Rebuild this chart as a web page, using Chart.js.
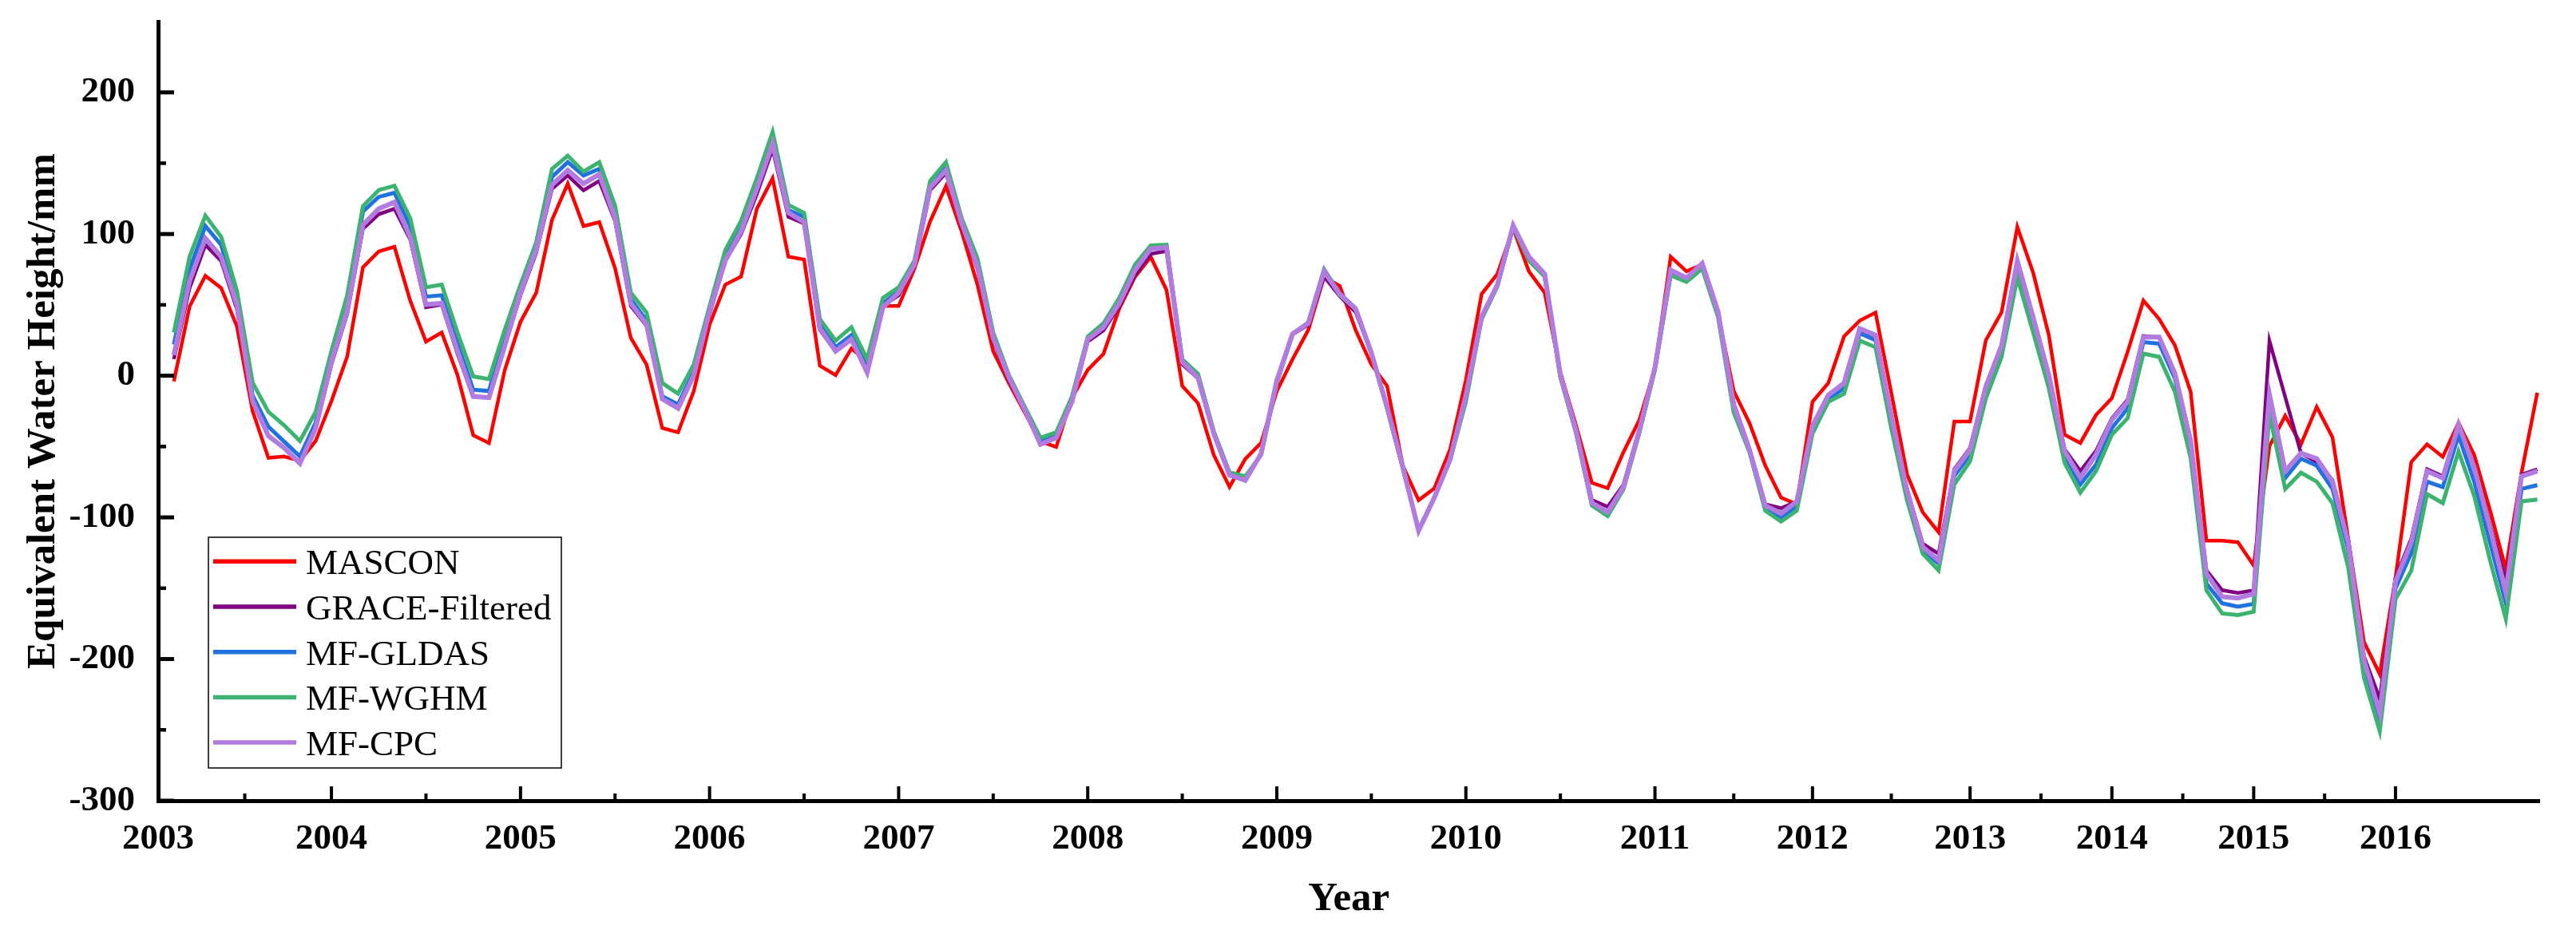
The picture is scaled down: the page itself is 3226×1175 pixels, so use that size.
<!DOCTYPE html>
<html>
<head>
<meta charset="utf-8">
<script src="https://cdn.jsdelivr.net/npm/chart.js@4.4.1/dist/chart.umd.min.js"></script>
<style>
html,body{margin:0;padding:0;background:#ffffff;overflow:hidden;}
#wrap{width:3226px;height:1175px;position:relative;}
canvas{display:block;}
</style>
</head>
<body>
<div id="wrap"><canvas id="c" width="3226" height="1175"></canvas></div>
<script>
// ---------------- DATA ----------------
// x positions are sequential monthly-solution indices (index 0 = Jan 2003 slot, data from index 1)
const yearLabels = ['2003','2004','2005','2006','2007','2008','2009','2010','2011','2012','2013','2014','2015','2016'];
const yearTickIndex = [0, 11, 23, 35, 47, 59, 71, 83, 95, 105, 115, 124, 133, 142];
const yTickValues = [-300, -200, -100, 0, 100, 200];
const yMinorValues = [-250, -150, -50, 50, 150];
const seriesNames = ['MASCON', 'GRACE-Filtered', 'MF-GLDAS', 'MF-WGHM', 'MF-CPC'];

const mascon = [
 -4, 49, 70.5, 62, 35, -25, -58, -57, -60, -46,
 -18, 13.5, 76.5, 87.7, 91, 53, 24, 30.5, 0.5, -42,
 -47.5, 4, 38, 58.6, 110, 135.6, 105.6, 108.4, 76, 26.7,
 7.9, -37, -40, -10.8, 36, 64.3, 70, 117.8, 139.4, 84,
 82, 7, 0.4, 19.2, 10, 49.2, 49.2, 75.5, 109, 133.7,
 101.8, 64.3, 17.3, -5.2, -25.9, -46.5, -50.3, -15.6, 4.1, 15.4,
 47.3, 69.8, 83.9, 60.5, -7.2, -19.4, -56, -78.5, -58.8, -47.5,
 -10.9, 11.6, 32.3, 69.8, 63.3, 32.3, 7.9, -7.2, -63.5, -87.9,
 -79.5, -52, -3, 57.7, 71.8, 104, 73.7, 58.6, 2.3, -35.3,
 -75.6, -79.4, -54, -31.5, 5, 84, 73.7, 78.4, 43.6, -10.8,
 -33.4, -63.4, -86, -90.7, -18.4, -5.2, 27.7, 38.9, 44.6, -12,
 -69.6, -96.5, -110.5, -32.3, -32.3, 25, 44.8, 105, 72.8, 28.5,
 -41.6, -47.5, -27.6, -15.9, 16.8, 53, 40.1, 21.5, -11.3, -116.4,
 -116.4, -117.5, -134, -49.7, -28.3, -48.4, -22, -43.4, -115.1, -188,
 -210.6, -142.7, -61, -48.4, -57.2, -33.3, -56, -95, -136.4, -68.5,
 -12
];

const graceFiltered = [
 11.7, 62, 92.4, 81, 47, -18, -42, -51, -61.5, -37,
 7.9, 43.6, 103.7, 114, 117.8, 96.2, 48.3, 50.2, 15.4, -14.6,
 -15.5, 21, 56.8, 86.8, 131.9, 141.3, 130.9, 137.5, 109.3, 49.2,
 35.2, -16.5, -23, 0.4, 43.6, 81.2, 100, 128.1, 160, 112.2,
 107.5, 32.3, 17.3, 25.8, 2.3, 49.2, 56.8, 77.4, 131, 143.1,
 105.6, 75.5, 24.8, -3.3, -24, -48, -42, -18, 24, 32,
 49, 71, 86, 88, 8, -2, -41, -70, -74, -55,
 -4, 29, 36, 70, 56, 45, 16, -22, -64, -109,
 -86, -58, -14, 42, 64, 104, 83, 71, 1, -38,
 -87.8, -92.5, -77, -38, 6, 74, 69, 78, 45, -20,
 -52, -90.7, -93.5, -88.8, -35, -14, -5, 32, 28, -28,
 -80, -118.7, -125.7, -66, -51, -7, 21, 81, 41, 0,
 -52, -67.3, -53, -30, -17, 28, 27, 1, -45, -137.4,
 -151.4, -153.3, -151.5, 24.5, -15, -54.7, -61, -73.6, -115.1, -198,
 -228.3, -142.7, -115.1, -66, -71, -35.8, -63.5, -105, -145.2, -69.8,
 -66
];

const mfGldas = [
 22, 75, 105.6, 92.4, 56, -14, -36, -46.5, -57, -33,
 13.6, 51, 115.9, 126.2, 129.1, 105.6, 55.8, 56.8, 23, -9.9,
 -10.8, 28.6, 60.5, 90.6, 140.3, 150.7, 141.3, 146, 116, 54,
 38.9, -14.6, -20.2, 3.2, 47.4, 85.9, 105.6, 134.7, 167.5, 116.9,
 112.2, 36.1, 20.1, 28.6, 5.1, 51.1, 59.6, 79.3, 134.7, 147.8,
 108.4, 79.3, 28.6, -0.5, -23, -46, -42, -17, 26.5, 35.5,
 53, 76.5, 91, 91.5, 10.5, 0, -40, -69, -72.5, -55.5,
 -4.5, 29.5, 37.5, 75, 58, 47.5, 16, -22.5, -65, -109,
 -86, -59, -16, 41, 64, 106, 82.5, 71, -0.5, -40,
 -90.5, -97.5, -79.5, -40, 5, 72.5, 67.5, 77.5, 43.5, -23,
 -53, -93.5, -100, -92, -38, -16, -9, 30, 25, -32,
 -83.7, -123.4, -132.7, -70.8, -55.6, -11.3, 16.8, 75.2, 37.8, -3.1,
 -56.8, -76.7, -62.6, -37, -23, 23.8, 22.6, -1.9, -51, -146.7,
 -160.7, -163.1, -161, -19.5, -72.3, -58.5, -63.5, -79.9, -122.6, -205.6,
 -243.3, -150.3, -125.1, -74.8, -78.6, -42.1, -74.8, -117.6, -160.3, -79.9,
 -77.3
];

const mfWghm = [
 30.5, 84, 113, 98, 60, -5, -25.5, -35, -46, -25.5,
 17.3, 56.8, 119.7, 131, 134.1, 111.2, 62.4, 64.3, 30.5, -0.5,
 -2.4, 32.4, 64.3, 94.3, 146, 155.3, 144.1, 150.7, 120, 58.6,
 44.5, -5.2, -12.7, 8, 49.2, 88.7, 109.3, 139.4, 172, 120.6,
 115, 39.9, 24.8, 34.2, 11.7, 54.9, 62.4, 81.2, 137.5, 150.7,
 111.2, 83, 30.5, 0.4, -22, -43.8, -40, -14.7, 27.6, 37,
 54.8, 78.3, 92, 92.4, 11.6, 1.3, -39.1, -68.2, -71, -56,
 -5.3, 29.5, 37, 74.5, 56.7, 47.3, 15.4, -23.1, -65.4, -108.6,
 -86, -59.7, -18.4, 39.9, 63, 105, 81.2, 69.9, -1.5, -40.9,
 -91.6, -99.1, -80.3, -40.9, 4.2, 70.8, 66.2, 75.5, 41.7, -25.9,
 -54, -95.3, -102.9, -95.3, -40.9, -18.4, -12.7, 24.8, 20.1, -37,
 -88, -125.7, -137.4, -76.7, -60.3, -16, 13.3, 69.3, 30.8, -8.9,
 -61.5, -82.5, -67.3, -41.6, -30, 15.6, 13.3, -11.3, -58, -151.4,
 -167.8, -169, -166.6, -27, -79.9, -68.5, -74.8, -89.9, -135.2, -213.2,
 -250.9, -157.8, -137.7, -83.6, -89.9, -53.4, -84.9, -130.2, -171.6, -88.7,
 -87.4
];

const mfCpc = [
 14.5, 67, 97, 84, 50, -18, -42.5, -51, -62, -37,
 9.8, 45.5, 106.5, 117.8, 122.5, 98, 50.2, 51.1, 17.3, -14.6,
 -15.5, 21, 58.6, 88.7, 134.7, 145, 135.6, 142.2, 111.2, 51.1,
 36.1, -16.5, -23, 0.4, 45.5, 81.2, 101.8, 131.9, 163.8, 115,
 108.4, 33.3, 17.3, 25.8, 2.3, 48.3, 58.6, 78.4, 132.8, 145,
 107.5, 77.4, 26.7, -1.4, -24, -48.5, -43.8, -18.4, 25.7, 34.2,
 51.1, 74.5, 89.6, 90.5, 9.8, -1.5, -41, -70.1, -73.8, -55.1,
 -3.4, 29.5, 37, 73.6, 57.6, 47.3, 16.3, -22.2, -64.4, -109.5,
 -86, -58.8, -14, 41.7, 64.3, 106, 84, 71.8, 0.4, -39,
 -89.7, -96.3, -78.5, -39, 6, 74.6, 69, 79.3, 45.5, -20.2,
 -52.2, -91.6, -97.2, -88.8, -35.3, -13.7, -5.2, 33.3, 28.6, -27.7,
 -81.3, -121, -130.4, -67.3, -52.1, -7.7, 21.4, 81, 41.3, 0.4,
 -53.3, -72, -55.6, -31.1, -18.3, 27.3, 27.3, 1.6, -46.3, -139.7,
 -156, -157, -154, -13.2, -67.3, -54.7, -58.5, -74.8, -117.6, -200.6,
 -238.3, -145.2, -117.6, -67.3, -72.3, -34.6, -64.8, -107.5, -152.8, -71,
 -67.3
];

// ---------------- CHART ----------------
const toXY = arr => arr.map((v, k) => ({x: k + 1, y: v}));
const serif = '"Liberation Serif", "Times New Roman", serif';

const seriesStyle = [
  {color: '#FF0000', width: 4.5, order: 4},
  {color: '#800080', width: 4.5, order: 3},
  {color: '#1F72E0', width: 5,   order: 2},
  {color: '#3CB371', width: 5,   order: 1},
  {color: '#B27BDF', width: 6,   order: 0}
];
const seriesData = [mascon, graceFiltered, mfGldas, mfWghm, mfCpc];

const datasets = seriesData.map((arr, k) => ({
  label: seriesNames[k],
  data: toXY(arr),
  borderColor: seriesStyle[k].color,
  backgroundColor: seriesStyle[k].color,
  borderWidth: seriesStyle[k].width,
  order: seriesStyle[k].order,
  pointRadius: 0,
  tension: 0,
  fill: false,
  borderJoinStyle: 'miter',
  borderCapStyle: 'butt'
}));

const inwardTicks = {
  id: 'inwardTicks',
  afterDatasetsDraw(chart) {
    const {ctx, chartArea} = chart;
    const xs = chart.scales.x, ys = chart.scales.y;
    ctx.save();
    ctx.strokeStyle = '#000';
    ctx.lineCap = 'butt';
    ctx.lineWidth = 5;
    yTickValues.forEach(v => {
      const p = ys.getPixelForValue(v);
      ctx.beginPath(); ctx.moveTo(chartArea.left, p); ctx.lineTo(chartArea.left + 20, p); ctx.stroke();
    });
    ctx.lineWidth = 4.5;
    yMinorValues.forEach(v => {
      const p = ys.getPixelForValue(v);
      ctx.beginPath(); ctx.moveTo(chartArea.left, p); ctx.lineTo(chartArea.left + 10, p); ctx.stroke();
    });
    ctx.lineWidth = 4;
    yearTickIndex.forEach(v => {
      const p = xs.getPixelForValue(v);
      ctx.beginPath(); ctx.moveTo(p, chartArea.bottom); ctx.lineTo(p, chartArea.bottom - 18); ctx.stroke();
    });
    for (let k = 0; k < yearTickIndex.length - 1; k++) {
      const p = xs.getPixelForValue((yearTickIndex[k] + yearTickIndex[k + 1]) / 2);
      ctx.beginPath(); ctx.moveTo(p, chartArea.bottom); ctx.lineTo(p, chartArea.bottom - 9); ctx.stroke();
    }
    ctx.restore();
  }
};

const boxLegend = {
  id: 'boxLegend',
  afterDraw(chart) {
    const ctx = chart.ctx;
    const box = {x: 261, y: 673, w: 442, h: 289};
    ctx.save();
    ctx.fillStyle = '#fff';
    ctx.fillRect(box.x, box.y, box.w, box.h);
    ctx.strokeStyle = '#000';
    ctx.lineWidth = 1.5;
    ctx.strokeRect(box.x, box.y, box.w, box.h);
    ctx.font = '45px ' + serif;
    ctx.textBaseline = 'alphabetic';
    ctx.textAlign = 'left';
    chart.data.datasets.forEach((ds, k) => {
      const y = 703.3 + k * 56.7;
      ctx.strokeStyle = ds.borderColor;
      ctx.lineWidth = 5.5;
      ctx.beginPath(); ctx.moveTo(267, y); ctx.lineTo(371, y); ctx.stroke();
      ctx.fillStyle = '#000';
      ctx.fillText(ds.label, 383, y + 16);
    });
    ctx.restore();
  }
};

new Chart(document.getElementById('c'), {
  type: 'line',
  data: {datasets},
  options: {
    responsive: false,
    animation: false,
    devicePixelRatio: 1,
    layout: {padding: {left: 0, top: 27, right: 45.5, bottom: 0}},
    plugins: {legend: {display: false}, tooltip: {enabled: false}},
    scales: {
      x: {
        type: 'linear',
        min: 0,
        max: 151.15,
        grid: {display: false},
        border: {display: true, width: 5, color: '#000'},
        afterBuildTicks: s => { s.ticks = yearTickIndex.map(v => ({value: v})); },
        afterFit: s => { s.height = 172; s.paddingLeft = 0; s.paddingRight = 0; },
        ticks: {
          autoSkip: false, maxRotation: 0, padding: 13, color: '#000',
          font: {family: serif, size: 45, weight: 'bold'},
          callback: (value, index) => yearLabels[index]
        },
        title: {
          display: true, text: 'Year', color: '#000',
          font: {family: serif, size: 51, weight: 'bold'},
          padding: {top: 0, bottom: 18}
        }
      },
      y: {
        type: 'linear',
        min: -300,
        max: 250,
        grid: {display: false},
        border: {display: true, width: 5, color: '#000'},
        afterBuildTicks: s => { s.ticks = yTickValues.map(v => ({value: v})); },
        afterFit: s => { s.width = 198; s.paddingTop = 0; s.paddingBottom = 0; },
        ticks: {
          padding: 21, color: '#000',
          font: {family: serif, size: 45, weight: 'bold'},
          callback: value => String(value)
        },
        title: {
          display: true, text: 'Equivalent Water Height/mm', color: '#000',
          font: {family: serif, size: 51, weight: 'bold'},
          padding: {top: 24, bottom: 0}
        }
      }
    }
  },
  plugins: [inwardTicks, boxLegend]
});
</script>
</body>
</html>
